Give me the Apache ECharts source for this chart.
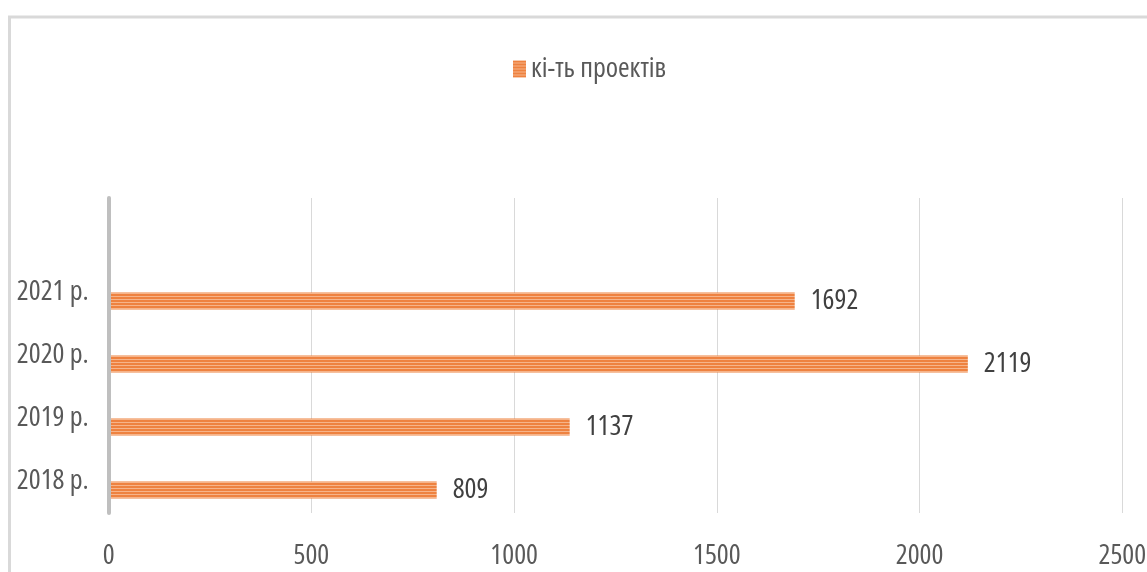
<!DOCTYPE html>
<html>
<head>
<meta charset="utf-8">
<script src="https://cdn.jsdelivr.net/npm/echarts@6/dist/echarts.min.js"></script>
<style>
html,body{margin:0;padding:0;background:#fff;}
#chart{width:1147px;height:572px;}
</style>
</head>
<body>
<div id="chart"></div>
<script>
const categories = ['2018 р.', '2019 р.', '2020 р.', '2021 р.', ''];
const projectCounts = [809, 1137, 2119, 1692, null];
const emptyCompanion = [null, null, null, null, null];
const seriesName = 'кі-ть проектів';
const axisMin = 0, axisMax = 2500, axisStep = 500;

const FONT = "'Open Sans', 'Liberation Sans', sans-serif";
const STRETCH = 'condensed';

function stripePattern() {
  const c = document.createElement('canvas');
  c.width = 4; c.height = 3;
  const g = c.getContext('2d');
  g.fillStyle = '#ee8240'; g.fillRect(0, 0, 4, 2);
  g.fillStyle = '#f6b48a'; g.fillRect(0, 2, 4, 1);
  return c;
}
const pattern = { image: stripePattern(), repeat: 'repeat' };

const chart = echarts.init(document.getElementById('chart'), null, { renderer: 'canvas' });
chart.setOption({
  animation: false,
  backgroundColor: '#fff',
  graphic: [{
    type: 'rect',
    shape: { x: 9.5, y: 17, width: 1300, height: 700 },
    style: { fill: 'none', stroke: '#d9d9d9', lineWidth: 3 },
    silent: true, z: -1
  }],
  legend: {
    data: [seriesName],
    left: 508, top: 50,
    itemWidth: 13, itemHeight: 17, itemGap: 10,
    icon: 'rect',
    textStyle: { fontFamily: FONT, fontWeight: STRETCH, fontSize: 28, color: '#595959' }
  },
  grid: { left: 108.7, right: 24.7, top: 198, bottom: 59, containLabel: false, outerBoundsMode: 'none' },
  xAxis: {
    type: 'value', min: axisMin, max: axisMax, interval: axisStep,
    axisLine: { show: false },
    axisTick: { show: false },
    splitLine: { show: true, lineStyle: { color: '#d9d9d9', width: 1 } },
    axisLabel: {
      margin: 28, fontFamily: FONT, fontWeight: STRETCH, fontSize: 28, color: '#595959', lineHeight: 30,
      formatter: v => String(v)
    }
  },
  yAxis: {
    type: 'category', data: categories, z: 5,
    axisLine: { show: true, lineStyle: { color: '#bfbfbf', width: 4 } },
    axisTick: { show: false },
    axisLabel: { margin: 20, fontFamily: FONT, fontWeight: STRETCH, fontSize: 28, color: '#595959' }
  },
  series: [
    {
      name: 'companion', type: 'bar', data: emptyCompanion,
      barWidth: 17, barGap: '0%', silent: true
    },
    {
      name: seriesName, type: 'bar', data: projectCounts,
      barWidth: 17, barGap: '0%',
      itemStyle: { color: pattern },
      label: {
        show: true, position: 'right', distance: 16,
        fontFamily: FONT, fontWeight: STRETCH, fontSize: 28, color: '#404040'
      }
    }
  ]
});
</script>
</body>
</html>
